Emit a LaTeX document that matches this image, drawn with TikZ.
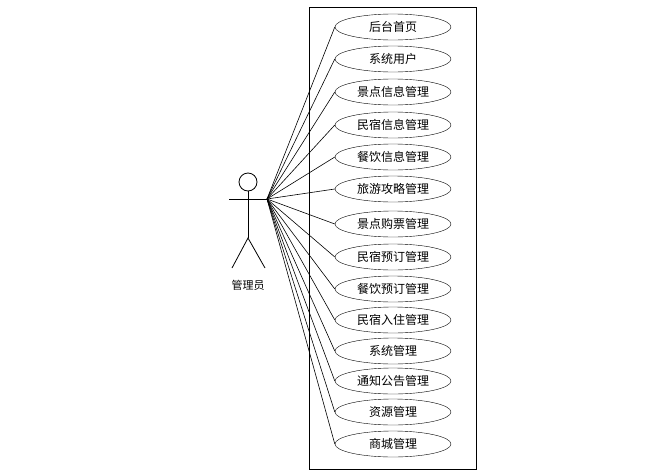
\documentclass[tikz,border=0pt]{standalone}
\usepackage{fontspec}
\newfontfamily\cjk{Noto Sans CJK SC}
\usetikzlibrary{positioning}
\tikzset{
    % Use case ellipse
    usecase/.style={
        ellipse,
        draw=black,
        minimum width=116pt,
        minimum height=26pt,
        inner sep=0pt,
        font=\cjk\fontsize{12}{14}\selectfont
    },
    % Actor strokes
    actorline/.style={
        draw=black,
        line width=0.8pt
    },
    % Association line
    assoc/.style={
        draw=black,
        line width=0.6pt
    }
}
\usetikzlibrary{shapes.geometric}
\begin{document}
\begin{tikzpicture}[x=1pt, y=-1pt]
    \useasboundingbox (0,0) rectangle (664,474);

    % System boundary
    \draw[line width=0.8pt] (309,7) rectangle (476,469);

    % Actor
    \draw[actorline] (248,182) circle (9);
    \draw[actorline] (248,191) -- (248,238);
    \draw[actorline] (229,199) -- (267,199);
    \draw[actorline] (232,268) -- (248,238) -- (265,268);
    \coordinate (hand) at (267,199);
    \node[font=\cjk\fontsize{11}{13}\selectfont] (admin) at (248,285) {管理员};

    % Use cases
    \foreach \i/\yy/\txt in {
        1/27/后台首页, 2/59/系统用户, 3/92/景点信息管理, 4/125/民宿信息管理,
        5/157/餐饮信息管理, 6/189/旅游攻略管理, 7/224/景点购票管理,
        8/257/民宿预订管理, 9/289/餐饮预订管理, 10/320/民宿入住管理,
        11/351/系统管理, 12/381/通知公告管理, 13/412/资源管理, 14/444/商城管理} {
        \node[usecase] (uc\i) at (393,\yy) {\txt};
        \draw[assoc] (hand) -- (uc\i.west);
    }
\end{tikzpicture}
\end{document}
